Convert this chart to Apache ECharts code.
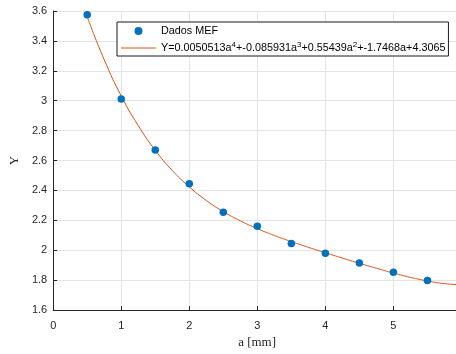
<!DOCTYPE html>
<html>
<head>
<meta charset="utf-8">
<script src="https://cdn.jsdelivr.net/npm/echarts@6/dist/echarts.min.js"></script>
<style>
  html, body { margin: 0; padding: 0; background: #fff; }
  #chart { width: 456px; height: 354px; }
</style>
</head>
<body>
<div id="chart"></div>
<script>
// FEM results: crack length a [mm] against the geometry factor Y
const sampleA = [0.5, 1, 1.5, 2, 2.5, 3, 3.5, 4, 4.5, 5, 5.5];
const sampleY = [3.575, 3.012, 2.670, 2.445, 2.255, 2.160, 2.045, 1.980, 1.915, 1.853, 1.798];

// Fitted 4th-order curve, sampled along a
const fitA = [0.5, 0.75, 1, 1.25, 1.5, 1.75, 2, 2.25, 2.5, 2.75, 3, 3.25, 3.5, 3.75,
              4, 4.25, 4.5, 4.75, 5, 5.25, 5.5, 5.75, 6];
const fitY = [3.561, 3.274, 3.032, 2.834, 2.669, 2.534, 2.424, 2.333, 2.259, 2.197,
              2.145, 2.099, 2.058, 2.020, 1.983, 1.948, 1.913, 1.880, 1.848, 1.819,
              1.795, 1.777, 1.769];

// visible a-range of the plot
const xMin = 0, xMax = 5.92, xStep = 1;
const yMin = 1.6, yMax = 3.6, yStep = 0.2;

const pointsName = 'Dados MEF';
const fitName = 'Y=0.0050513a^4+-0.085931a^3+0.55439a^2+-1.7468a+4.3065';
const fitLabel = 'Y=0.0050513a{s|4}+-0.085931a{s|3}+0.55439a{s|2}+-1.7468a+4.3065';

const axisColor = '#262626';
const gridColor = '#e4e4e4';

const chart = echarts.init(document.getElementById('chart'), null, { renderer: 'canvas' });

chart.setOption({
  animation: false,
  backgroundColor: '#ffffff',
  grid: { left: 51, top: 11, bottom: 39, right: 0, containLabel: false },
  xAxis: {
    type: 'value',
    min: xMin, max: xMax, interval: xStep,
    name: 'a [mm]',
    nameLocation: 'middle',
    nameGap: 23,
    nameTextStyle: { fontFamily: 'Liberation Serif', fontSize: 13, color: axisColor, padding: [0, 0, 0, 5] },
    axisLine: { onZero: false, lineStyle: { color: axisColor, width: 1 } },
    axisTick: { inside: true, length: 4, lineStyle: { color: axisColor } },
    axisLabel: { margin: 10, showMaxLabel: false, fontFamily: 'Liberation Sans', fontSize: 11, color: axisColor },
    splitLine: { show: true, lineStyle: { color: gridColor, width: 1 } }
  },
  yAxis: {
    type: 'value',
    min: yMin, max: yMax, interval: yStep,
    name: 'Y',
    nameLocation: 'middle',
    nameGap: 32,
    nameTextStyle: { fontFamily: 'Liberation Serif', fontSize: 13, color: axisColor },
    axisLine: { show: true, onZero: false, lineStyle: { color: axisColor, width: 1 } },
    axisTick: { show: true, inside: true, length: 4, lineStyle: { color: axisColor } },
    axisLabel: {
      margin: 6, fontFamily: 'Liberation Sans', fontSize: 11, color: axisColor,
      formatter: v => String(parseFloat(v.toFixed(1)))
    },
    splitLine: { show: true, lineStyle: { color: gridColor, width: 1 } }
  },
  legend: {
    orient: 'vertical',
    left: 117, top: 22,
    padding: [2, 3, 1, 4],
    itemGap: 3,
    itemWidth: 35,
    itemHeight: 8,
    symbolKeepAspect: true,
    borderColor: '#1a1a1a',
    borderWidth: 1,
    borderRadius: 0,
    backgroundColor: '#ffffff',
    textStyle: {
      fontFamily: 'Liberation Sans', fontSize: 10.8, color: '#000', lineHeight: 14,
      rich: { s: { fontFamily: 'Liberation Sans', fontSize: 8, lineHeight: 8, verticalAlign: 'top', color: '#000' } }
    },
    formatter: name => (name === fitName ? fitLabel : name),
    data: [
      { name: pointsName, icon: 'circle' },
      { name: fitName, icon: 'path://M0,0L35,0L35,1L0,1Z' }
    ]
  },
  series: [
    {
      name: fitName,
      type: 'line',
      data: fitA.map((a, i) => [a, fitY[i]]),
      smooth: true,
      symbol: 'none',
      showSymbol: false,
      lineStyle: { color: '#D95319', width: 1 },
      itemStyle: { color: '#D95319' },
      z: 2
    },
    {
      name: pointsName,
      type: 'scatter',
      data: sampleA.map((a, i) => [a, sampleY[i]]),
      symbol: 'circle',
      symbolSize: 7.5,
      itemStyle: { color: '#0072BD', opacity: 1 },
      z: 3
    }
  ]
});
</script>
</body>
</html>
